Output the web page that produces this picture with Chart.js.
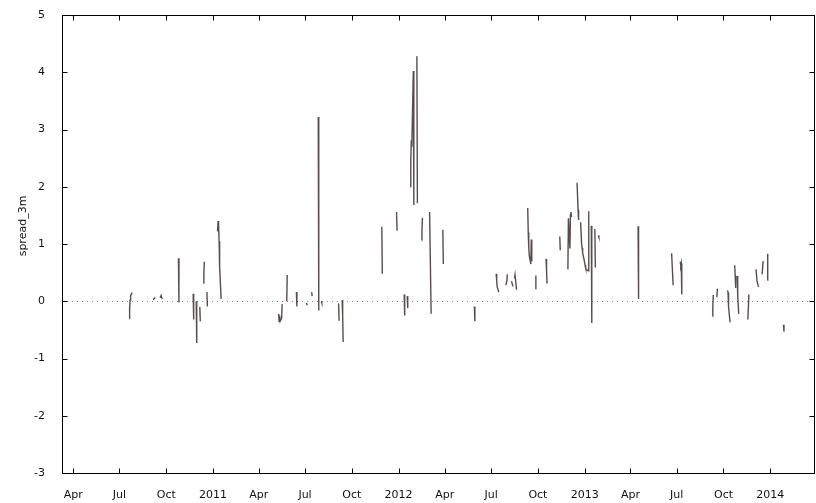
<!DOCTYPE html>
<html><head><meta charset="utf-8">
<script src="https://cdn.jsdelivr.net/npm/chart.js@4.4.1/dist/chart.umd.min.js"></script>
<style>html,body{margin:0;padding:0;background:#fff}#wrap{width:816px;height:503px}</style>
</head><body><div id="wrap"><canvas id="c" width="816" height="503"></canvas></div>
<script>
// observation dates (null value = gap in the series)
const dates = [
 '2010-07-20','2010-07-21','2010-07-22','2010-07-23','2010-07-26','2010-08-01',
 '2010-09-06','2010-09-07','2010-09-08','2010-09-10',
 '2010-09-19','2010-09-21','2010-09-23','2010-10-01',
 '2010-10-25','2010-10-26','2010-11-01',
 '2010-11-23','2010-11-24','2010-11-26',
 '2010-11-29','2010-11-30','2010-12-03',
 '2010-12-06','2010-12-07','2010-12-10',
 '2010-12-13','2010-12-14','2010-12-15','2010-12-17',
 '2010-12-20','2010-12-21','2010-12-25',
 '2011-01-10','2011-01-11','2011-01-12','2011-01-13','2011-01-14','2011-01-17','2011-02-01',
 '2011-05-10','2011-05-11','2011-05-12','2011-05-13','2011-05-16','2011-05-17','2011-05-20',
 '2011-05-26','2011-05-27','2011-06-01',
 '2011-06-14','2011-06-15','2011-06-20',
 '2011-07-04','2011-07-05','2011-07-08',
 '2011-07-14','2011-07-15','2011-07-20',
 '2011-07-27','2011-07-28','2011-07-31',
 '2011-08-02','2011-08-03','2011-08-20',
 '2011-09-05','2011-09-06','2011-09-09',
 '2011-09-12','2011-09-13','2011-09-14','2011-10-01',
 '2011-11-29','2011-11-30','2011-12-10',
 '2011-12-28','2011-12-29','2012-01-05',
 '2012-01-12','2012-01-13','2012-01-15',
 '2012-01-18','2012-01-19','2012-01-21',
 '2012-01-24','2012-01-25','2012-01-26','2012-01-27','2012-01-30','2012-01-31','2012-02-03',
 '2012-02-06','2012-02-07','2012-02-10',
 '2012-02-15','2012-02-16','2012-02-17','2012-02-25',
 '2012-03-02','2012-03-05','2012-03-15',
 '2012-03-28','2012-03-29','2012-04-15',
 '2012-05-29','2012-05-30','2012-06-15',
 '2012-07-11','2012-07-12','2012-07-13','2012-07-16','2012-07-20',
 '2012-07-30','2012-08-01','2012-08-02','2012-08-05',
 '2012-08-10','2012-08-13','2012-08-14',
 '2012-08-16','2012-08-17','2012-08-20','2012-09-01',
 '2012-09-11','2012-09-12','2012-09-13','2012-09-14','2012-09-17','2012-09-18','2012-09-19','2012-09-22',
 '2012-09-26','2012-09-27','2012-10-10',
 '2012-10-17','2012-10-18','2012-10-19','2012-11-01',
 '2012-11-13','2012-11-14','2012-11-20',
 '2012-11-29','2012-11-30','2012-12-03','2012-12-04','2012-12-05','2012-12-06','2012-12-10',
 '2012-12-17','2012-12-19','2012-12-20','2012-12-22',
 '2012-12-24','2012-12-26','2012-12-27','2012-12-28','2012-12-31','2013-01-02','2013-01-03','2013-01-04','2013-01-07','2013-01-08','2013-01-09','2013-01-11',
 '2013-01-14','2013-01-15','2013-01-18',
 '2013-01-21','2013-01-22','2013-01-25',
 '2013-01-28','2013-01-29','2013-02-15',
 '2013-04-16','2013-04-17','2013-05-01',
 '2013-06-21','2013-06-24','2013-07-01',
 '2013-07-08','2013-07-09','2013-07-10','2013-07-11','2013-08-01',
 '2013-09-09','2013-09-10','2013-09-11','2013-09-14',
 '2013-09-18','2013-09-19','2013-10-01',
 '2013-10-09','2013-10-10','2013-10-11','2013-10-14','2013-10-18',
 '2013-10-23','2013-10-24','2013-10-25','2013-10-26',
 '2013-10-28','2013-10-29','2013-10-31','2013-11-10',
 '2013-11-18','2013-11-20','2013-11-25',
 '2013-12-04','2013-12-06','2013-12-09','2013-12-12',
 '2013-12-16','2013-12-18','2013-12-21',
 '2013-12-26','2013-12-27','2014-01-10',
 '2014-01-27','2014-01-28'
];
const spread = [
 -0.30,-0.12,0.02,0.10,0.15,null,
 0.02,0.05,0.07,null,
 0.06,0.10,0.04,null,
 0.75,-0.02,null,
 0.13,-0.32,null,
 0.00,-0.73,null,
 -0.10,-0.35,null,
 0.32,0.50,0.69,null,
 0.16,-0.09,null,
 1.22,1.40,1.33,1.05,0.60,0.04,null,
 -0.22,-0.35,-0.25,-0.35,-0.30,-0.05,null,
 0.00,0.46,null,
 0.16,-0.09,null,
 -0.03,-0.07,null,
 0.16,0.09,null,
 3.22,-0.16,null,
 0.00,-0.03,null,
 -0.04,-0.34,null,
 0.02,-0.25,-0.71,null,
 1.30,0.48,null,
 1.56,1.23,null,
 0.12,-0.25,null,
 0.09,-0.12,null,
 2.00,2.45,2.81,2.70,4.02,1.68,null,
 4.28,1.71,null,
 1.07,1.25,1.46,null,
 1.56,-0.22,null,
 1.25,0.65,null,
 -0.09,-0.35,null,
 0.48,0.35,0.25,0.16,null,
 0.28,0.36,0.47,null,
 0.35,0.26,null,
 0.40,0.46,0.20,null,
 1.63,1.20,0.95,0.80,0.65,1.08,0.70,null,
 0.22,0.45,null,
 0.74,0.55,0.31,null,
 1.13,0.89,null,
 0.56,1.45,0.92,1.51,1.56,1.47,null,
 2.07,1.60,1.42,null,
 1.38,1.00,0.93,0.85,0.72,0.62,0.58,0.55,0.54,0.53,1.57,null,
 1.32,-0.38,null,
 1.26,0.59,null,
 1.15,1.12,null,
 1.31,0.04,null,
 0.84,0.28,null,
 0.69,0.62,0.66,0.12,null,
 -0.26,-0.10,0.11,null,
 0.07,0.22,null,
 0.19,0.15,-0.10,-0.37,null,
 0.63,0.45,0.23,null,
 0.44,0.10,-0.22,null,
 -0.32,0.12,null,
 0.56,0.35,0.25,null,
 0.47,0.70,null,
 0.37,0.83,null,
 -0.41,-0.53
];
const tickDates = ['2010-04-01','2010-07-01','2010-10-01','2011-01-01','2011-04-01','2011-07-01','2011-10-01','2012-01-01','2012-04-01','2012-07-01','2012-10-01','2013-01-01','2013-04-01','2013-07-01','2013-10-01','2014-01-01'];
const tickLabels = ['Apr','Jul','Oct','2011','Apr','Jul','Oct','2012','Apr','Jul','Oct','2013','Apr','Jul','Oct','2014'];
const yTicks = [-3,-2,-1,0,1,2,3,4,5];
const xStart = '2010-03-10', xEnd = '2014-03-30';
const yTitle = 'spread_3m';

const day = s => Date.UTC(+s.slice(0,4), +s.slice(5,7)-1, +s.slice(8,10)) / 86400000;
const FONT = {family: 'DejaVu Sans', size: 11};

const framePlugin = {
  id: 'frame',
  beforeDatasetsDraw(chart) {
    const {ctx, chartArea: a, scales} = chart;
    const y0 = Math.round(scales.y.getPixelForValue(0)) + 0.5;
    ctx.save();
    ctx.strokeStyle = '#8a8a8a';
    ctx.lineWidth = 1;
    ctx.setLineDash([1, 4]);
    ctx.beginPath(); ctx.moveTo(a.left, y0); ctx.lineTo(a.right, y0); ctx.stroke();
    ctx.restore();
  },
  afterDraw(chart) {
    const {ctx, chartArea: a, scales} = chart;
    ctx.save();
    ctx.strokeStyle = '#000';
    ctx.lineWidth = 1;
    const L = Math.round(a.left) + 0.5, R = Math.round(a.right) - 0.5;
    const T = Math.round(a.top) + 0.5, B = Math.round(a.bottom) + 0.5;
    ctx.strokeRect(L, T, R - L, B - T);
    ctx.beginPath();
    scales.x.ticks.forEach(t => {
      const x = Math.round(scales.x.getPixelForValue(t.value)) + 0.5;
      ctx.moveTo(x, B); ctx.lineTo(x, B - 5);
      ctx.moveTo(x, T); ctx.lineTo(x, T + 5);
    });
    scales.y.ticks.forEach(t => {
      const y = Math.round(scales.y.getPixelForValue(t.value)) + 0.5;
      ctx.moveTo(L, y); ctx.lineTo(L + 5, y);
      ctx.moveTo(R, y); ctx.lineTo(R - 5, y);
    });
    ctx.stroke();
    ctx.fillStyle = '#111';
    ctx.font = '11px "DejaVu Sans"';
    ctx.translate(23, 226);
    ctx.rotate(-Math.PI / 2);
    ctx.textAlign = 'center';
    ctx.textBaseline = 'middle';
    ctx.fillText(yTitle, 0, 0);
    ctx.restore();
  }
};

new Chart(document.getElementById('c'), {
  type: 'line',
  data: {
    datasets: [{
      data: dates.map((d, i) => ({x: day(d), y: spread[i]})),
      borderColor: 'rgba(60,45,45,0.85)',
      borderWidth: 1.4,
      pointRadius: 0,
      spanGaps: false,
      tension: 0
    }]
  },
  options: {
    responsive: false,
    animation: false,
    devicePixelRatio: 1,
    layout: {padding: {top: 15, right: 1, left: 0, bottom: 0}},
    plugins: {legend: {display: false}, tooltip: {enabled: false}},
    scales: {
      x: {
        type: 'linear',
        min: day(xStart), max: day(xEnd),
        afterBuildTicks: s => { s.ticks = tickDates.map(d => ({value: day(d)})); },
        afterFit: s => { s.height = 30; s.paddingLeft = 0; s.paddingRight = 0; },
        grid: {display: false, drawTicks: false},
        border: {display: false},
        ticks: {
          autoSkip: false, maxRotation: 0, padding: 16,
          color: '#111', font: FONT,
          callback: (v, i) => tickLabels[i]
        }
      },
      y: {
        min: -3, max: 5,
        afterBuildTicks: s => { s.ticks = yTicks.map(v => ({value: v})); },
        afterFit: s => { s.width = 62; s.paddingTop = 0; s.paddingBottom = 0; },
        grid: {display: false, drawTicks: false},
        border: {display: false},
        ticks: {padding: 17, color: '#111', font: FONT, callback: v => String(v)}
      }
    }
  },
  plugins: [framePlugin]
});
</script>
</body></html>
